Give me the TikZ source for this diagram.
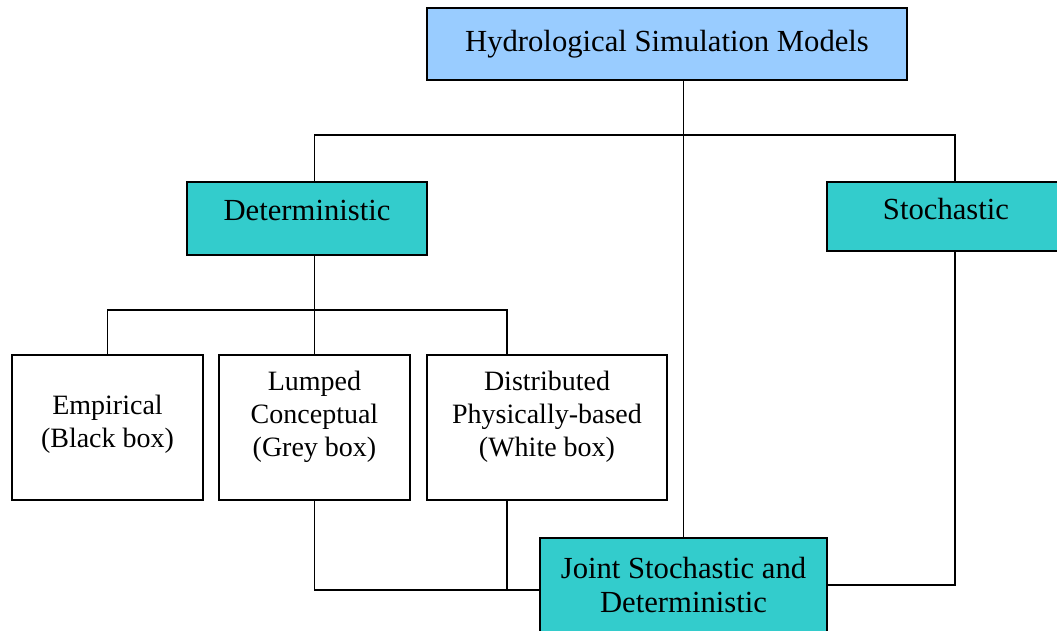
\documentclass[tikz,border=0pt]{standalone}
\usepackage{fontspec}
\setmainfont{Liberation Serif}
\definecolor{skyblue}{HTML}{99CCFF}
\definecolor{modelteal}{HTML}{33CCCC}
\tikzset{
  mainbox/.style={draw, line width=1.1pt, font=\fontsize{23}{25.5}\selectfont, align=center, inner sep=0pt},
  typebox/.style={mainbox, fill=modelteal},
  subbox/.style={draw, line width=1.1pt, fill=white, font=\fontsize{21}{24.75}\selectfont, align=center, inner sep=0pt, minimum height=108.75pt},
  link/.style={line width=1.1pt}
}
\begin{document}
\begin{tikzpicture}[x=0.75pt,y=-0.75pt]
  \useasboundingbox (0,0) rectangle (1057,631);
  % model levels
  \node[mainbox, fill=skyblue, minimum width=360pt, minimum height=54pt] (top) at (667,44) {Hydrological Simulation Models};
  \node[typebox, minimum width=180pt, minimum height=54.75pt, text depth=12pt] (det) at (307,218.5) {Deterministic};
  \node[typebox, minimum width=178.5pt, minimum height=51.75pt, text depth=12pt] (stoch) at (946,216.5) {Stochastic};
  \node[subbox, minimum width=143.25pt, text depth=9pt] (empirical) at (107.5,427.5) {Empirical\\(Black box)};
  \node[subbox, minimum width=143.25pt, text depth=21pt] (lumped) at (314.5,427.5) {Lumped\\Conceptual\\(Grey box)};
  \node[subbox, minimum width=180pt, text depth=21pt] (distributed) at (547,427.5) {Distributed\\Physically-based\\(White box)};
  \node[typebox, minimum width=215.25pt, minimum height=70.5pt] (joint) at (683.5,585) {Joint Stochastic and\\Deterministic};
  % junctions
  \coordinate (hub) at (683,135);
  \coordinate (fork) at (314.5,310);
  \coordinate (dtop) at ([xshift=-30pt]distributed.north);
  \coordinate (dbot) at ([xshift=-30pt]distributed.south);
  \coordinate (low) at ([yshift=-3.75pt]joint.west);
  % connectors
  \draw[link] (joint.north) -- (joint.north |- top.south);
  \draw[link] (lumped.north |- det.north) |- (hub) -| ([xshift=6.75pt]stoch.north);
  \draw[link] (lumped.north |- det.south) -- (lumped.north);
  \draw[link] (empirical.north) |- (fork) -| (dtop);
  \draw[link] (lumped.south) |- (low);
  \draw[link] (dbot) -- (dbot |- low);
  \draw[link] ([xshift=6.75pt]stoch.south) |- (joint.east);
\end{tikzpicture}
\end{document}
